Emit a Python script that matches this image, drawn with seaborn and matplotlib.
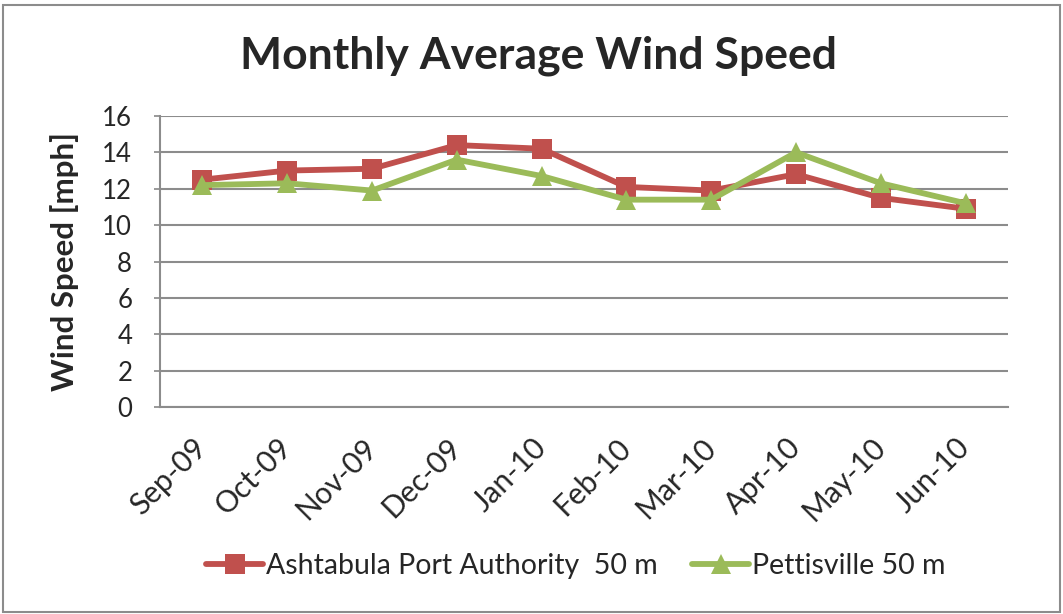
import pandas as pd
import seaborn as sns
import matplotlib.pyplot as plt
from matplotlib.patches import Rectangle

sns.set_theme(style="white")
plt.rcParams['font.family'] = ['Lato', 'DejaVu Sans']

months = ['Sep-09', 'Oct-09', 'Nov-09', 'Dec-09', 'Jan-10',
          'Feb-10', 'Mar-10', 'Apr-10', 'May-10', 'Jun-10']
ashtabula = [12.5, 13.0, 13.1, 14.4, 14.2, 12.1, 11.9, 12.8, 11.5, 10.9]
pettisville = [12.2, 12.3, 11.9, 13.6, 12.7, 11.4, 11.4, 14.0, 12.3, 11.2]
series_names = ['Ashtabula Port Authority  50 m', 'Pettisville 50 m']

df = pd.DataFrame({
    'month': months * 2,
    'speed': ashtabula + pettisville,
    'site': [series_names[0]] * len(months) + [series_names[1]] * len(months),
})

fig = plt.figure(figsize=(10.63, 6.14), dpi=100)
ax = fig.add_axes([160 / 1063, 1 - 407 / 614, 848 / 1063, 291 / 614])

sns.lineplot(data=df, x='month', y='speed', hue='site', style='site',
             markers={series_names[0]: 's', series_names[1]: '^'}, dashes=False,
             palette={series_names[0]: '#c0504d', series_names[1]: '#9bbb59'},
             linewidth=4.2, markersize=15, markeredgewidth=0, sort=False, ax=ax)

ax.set_xlim(-0.5, len(months) - 0.5)
ax.set_ylim(0, 16)
ax.set_yticks(range(0, 17, 2))
ax.yaxis.grid(True, color='#8c8c8c', linewidth=1.5)
ax.set_axisbelow(True)
for side in ['top', 'right']:
    ax.spines[side].set_visible(False)
ax.spines['left'].set_color('#8c8c8c')
ax.spines['bottom'].set_color('#8c8c8c')
ax.spines['left'].set_linewidth(1.5)
ax.spines['bottom'].set_linewidth(1.5)

ax.tick_params(axis='y', labelsize=18.5, length=4, color='#8c8c8c', left=True, pad=16)
ax.tick_params(axis='x', labelsize=21.5, length=0, pad=26)
plt.setp(ax.get_xticklabels(), rotation=45, ha='right', va='center',
         rotation_mode='anchor')

ax.set_xlabel('')
ax.set_ylabel('Wind Speed [mph]', fontsize=22.5, fontweight='bold', labelpad=17)
fig.text(538 / 1063, 1 - 56 / 614, 'Monthly Average Wind Speed', fontsize=32,
         fontweight='bold', ha='center', va='center')

handles, labels = ax.get_legend_handles_labels()
ax.legend(handles, labels, loc='center', bbox_to_anchor=(576 / 1063, 1 - 566 / 614),
          bbox_transform=fig.transFigure, ncol=2, frameon=False, fontsize=20.5,
          handlelength=2.0, columnspacing=1.2, handletextpad=0.1)

fig.patches.append(Rectangle((3 / 1063, 2 / 614), 1057 / 1063, 607 / 614,
                             transform=fig.transFigure, fill=False,
                             edgecolor='#8c8c8c', linewidth=1.5))

fig.savefig('out.png', dpi=100)
